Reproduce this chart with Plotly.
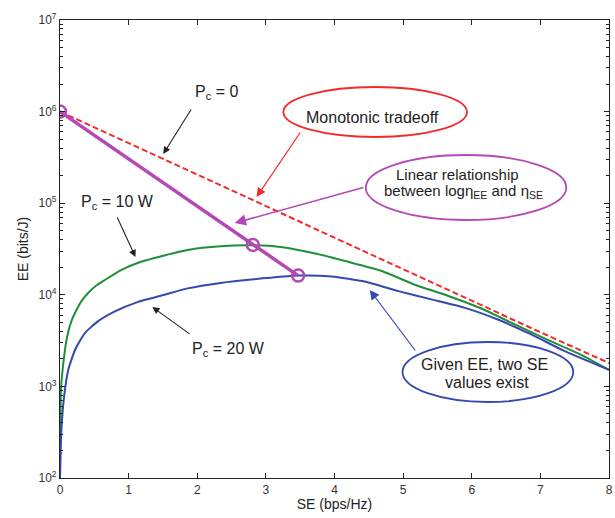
import plotly.graph_objects as go

# ---- data ----
se_pc0 = [0.0, 1.0, 2.0, 3.0, 4.0, 5.0, 6.0, 7.0, 8.0]
ee_pc0 = [1.0e6, 4.5e5, 2.05e5, 9.3e4, 4.2e4, 1.9e4, 8.6e3, 3.9e3, 1.8e3]

se_pc10 = [0.0, 0.005, 0.014, 0.048, 0.096, 0.17, 0.265, 0.33, 0.41, 0.52, 0.65, 0.89,
           1.18, 1.52, 1.86, 2.34, 2.81, 3.24, 3.72, 4.2, 4.69, 5.17, 5.65, 6.14, 6.62,
           7.1, 7.58, 8.0]
ee_pc10 = [100, 316, 912, 1778, 3236, 5248, 7413, 8900, 10471, 12500, 14454, 18621,
           22909, 26915, 30903, 33884, 34674, 33113, 28184, 22909, 18197, 12882, 9772,
           7079, 4786, 3236, 2239, 1514]

se_pc20 = [0.0, 0.005, 0.02, 0.06, 0.12, 0.22, 0.36, 0.55, 0.80, 1.13, 1.52, 1.86,
           2.34, 2.83, 3.48, 3.96, 4.44, 4.93, 5.41, 5.89, 6.38, 6.86, 7.34, 8.0]
ee_pc20 = [100, 145, 331, 776, 1514, 2512, 3802, 5129, 6607, 8318, 10000, 11749,
           13490, 14791, 16218, 15849, 13964, 10965, 8913, 7244, 5370, 3715, 2455, 1514]

se_opt = [0.0, 2.81, 3.47]
ee_opt = [1.0e6, 3.5e4, 1.62e4]

x_ticks = [0, 1, 2, 3, 4, 5, 6, 7, 8]
y_ticks = [1e2, 1e3, 1e4, 1e5, 1e6, 1e7]
y_ticktext = ["10<sup>2</sup>", "10<sup>3</sup>", "10<sup>4</sup>",
              "10<sup>5</sup>", "10<sup>6</sup>", "10<sup>7</sup>"]

RED = "#f22a2a"
GREEN = "#1f8f3a"
BLUE = "#3548b0"
MAG = "#b548b5"
FONT = "Liberation Sans, Arial, sans-serif"

fig = go.Figure()
fig.add_trace(go.Scatter(x=se_pc0, y=ee_pc0, mode="lines",
                         line=dict(color=RED, width=2, dash="6px,3px")))
fig.add_trace(go.Scatter(x=se_pc10, y=ee_pc10, mode="lines",
                         line=dict(color=GREEN, width=2, shape="spline", smoothing=0.5)))
fig.add_trace(go.Scatter(x=se_pc20, y=ee_pc20, mode="lines",
                         line=dict(color=BLUE, width=2, shape="spline", smoothing=0.5)))
fig.add_trace(go.Scatter(x=se_opt, y=ee_opt, mode="lines+markers",
                         line=dict(color=MAG, width=3.5),
                         marker=dict(symbol="circle-open", size=12, color=MAG,
                                     line=dict(width=2.5, color=MAG))))

# pixel -> axis helpers (plot area 60..613 x, 20..478 y)
def dx(px):
    return (px - 60) / 553 * 8

def dy(py):  # log10 value for log-axis annotation refs
    return 2 + (478 - py) / 458 * 5

def px_(px):
    return (px - 60) / 553

def py_(py):
    return (478 - py) / 458

def ann_text(px, py, text, size=15, color="#222"):
    fig.add_annotation(x=dx(px), y=dy(py), xref="x", yref="y", text=text,
                       showarrow=False, font=dict(family=FONT, size=size, color=color))

def arrow(tail, head, color, head_style=2, size=1.2, width=1.2):
    fig.add_annotation(x=dx(head[0]), y=dy(head[1]), xref="x", yref="y",
                       ax=dx(tail[0]), ay=dy(tail[1]), axref="x", ayref="y",
                       text="", showarrow=True, arrowhead=head_style,
                       arrowsize=size, arrowwidth=width, arrowcolor=color)

def ellipse(x0, y0, x1, y1, color):
    fig.add_shape(type="circle", xref="paper", yref="paper",
                  x0=px_(x0), x1=px_(x1), y0=py_(y1), y1=py_(y0),
                  line=dict(color=color, width=1.8), fillcolor="rgba(0,0,0,0)")

# Pc labels
ann_text(218, 92, "P<sub>c</sub> = 0", size=16)
arrow((193, 108), (164, 154), "#222", head_style=2, size=1.3, width=1.1)
ann_text(118, 202, "P<sub>c</sub> = 10 W", size=16)
arrow((117, 216), (136, 257), "#222", head_style=2, size=1.3, width=1.1)
ann_text(230, 349, "P<sub>c</sub> = 20 W", size=16)
arrow((192, 335), (153, 307), "#222", head_style=2, size=1.3, width=1.1)

# Monotonic tradeoff
ellipse(285, 87, 470, 137, RED)
ann_text(375, 117, "Monotonic tradeoff", size=16)
arrow((303, 131), (258, 197), RED, head_style=2, size=1.5, width=1.2)

# Linear relationship
ellipse(368, 155, 570, 220, MAG)
ann_text(460, 174, "Linear relationship")
ann_text(466, 191, "between logη<sub>EE</sub> and η<sub>SE</sub>")
arrow((367, 187), (236, 223), MAG, head_style=2, size=1.5, width=1.5)

# Given EE
ellipse(405, 342, 577, 402, BLUE)
ann_text(488, 364, "Given EE, two SE", size=16)
ann_text(490, 382, "values exist", size=16)
arrow((419, 352), (372, 290), BLUE, head_style=2, size=1.6, width=1.2)

axis_common = dict(showline=True, linecolor="#222", linewidth=1.2, mirror="allticks",
                   ticks="inside", ticklen=5, tickcolor="#222", showgrid=False,
                   zeroline=False, ticklabeloverflow="allow",
                   tickfont=dict(family=FONT, size=12, color="#333"))

fig.update_xaxes(range=[0, 8], tickvals=x_ticks,
                 title=dict(text="SE (bps/Hz)", standoff=3,
                            font=dict(family=FONT, size=14, color="#222")),
                 **axis_common)
fig.update_yaxes(type="log", range=[2, 7], tickvals=y_ticks, ticktext=y_ticktext,
                 minor=dict(ticks="inside", ticklen=3, tickcolor="#222",
                            tickvals=[m * 10 ** e for e in range(2, 7) for m in range(2, 10)]),
                 title=dict(text="EE (bits/J)", standoff=6,
                            font=dict(family=FONT, size=14, color="#222")),
                 **axis_common)

fig.update_layout(width=615, height=518, showlegend=False,
                  margin=dict(l=60, r=2, t=20, b=40),
                  plot_bgcolor="white", paper_bgcolor="white")

fig.write_html("out.html", config={"displayModeBar": False},
               post_script="document.body.style.margin='0';document.body.style.overflow='hidden';")
